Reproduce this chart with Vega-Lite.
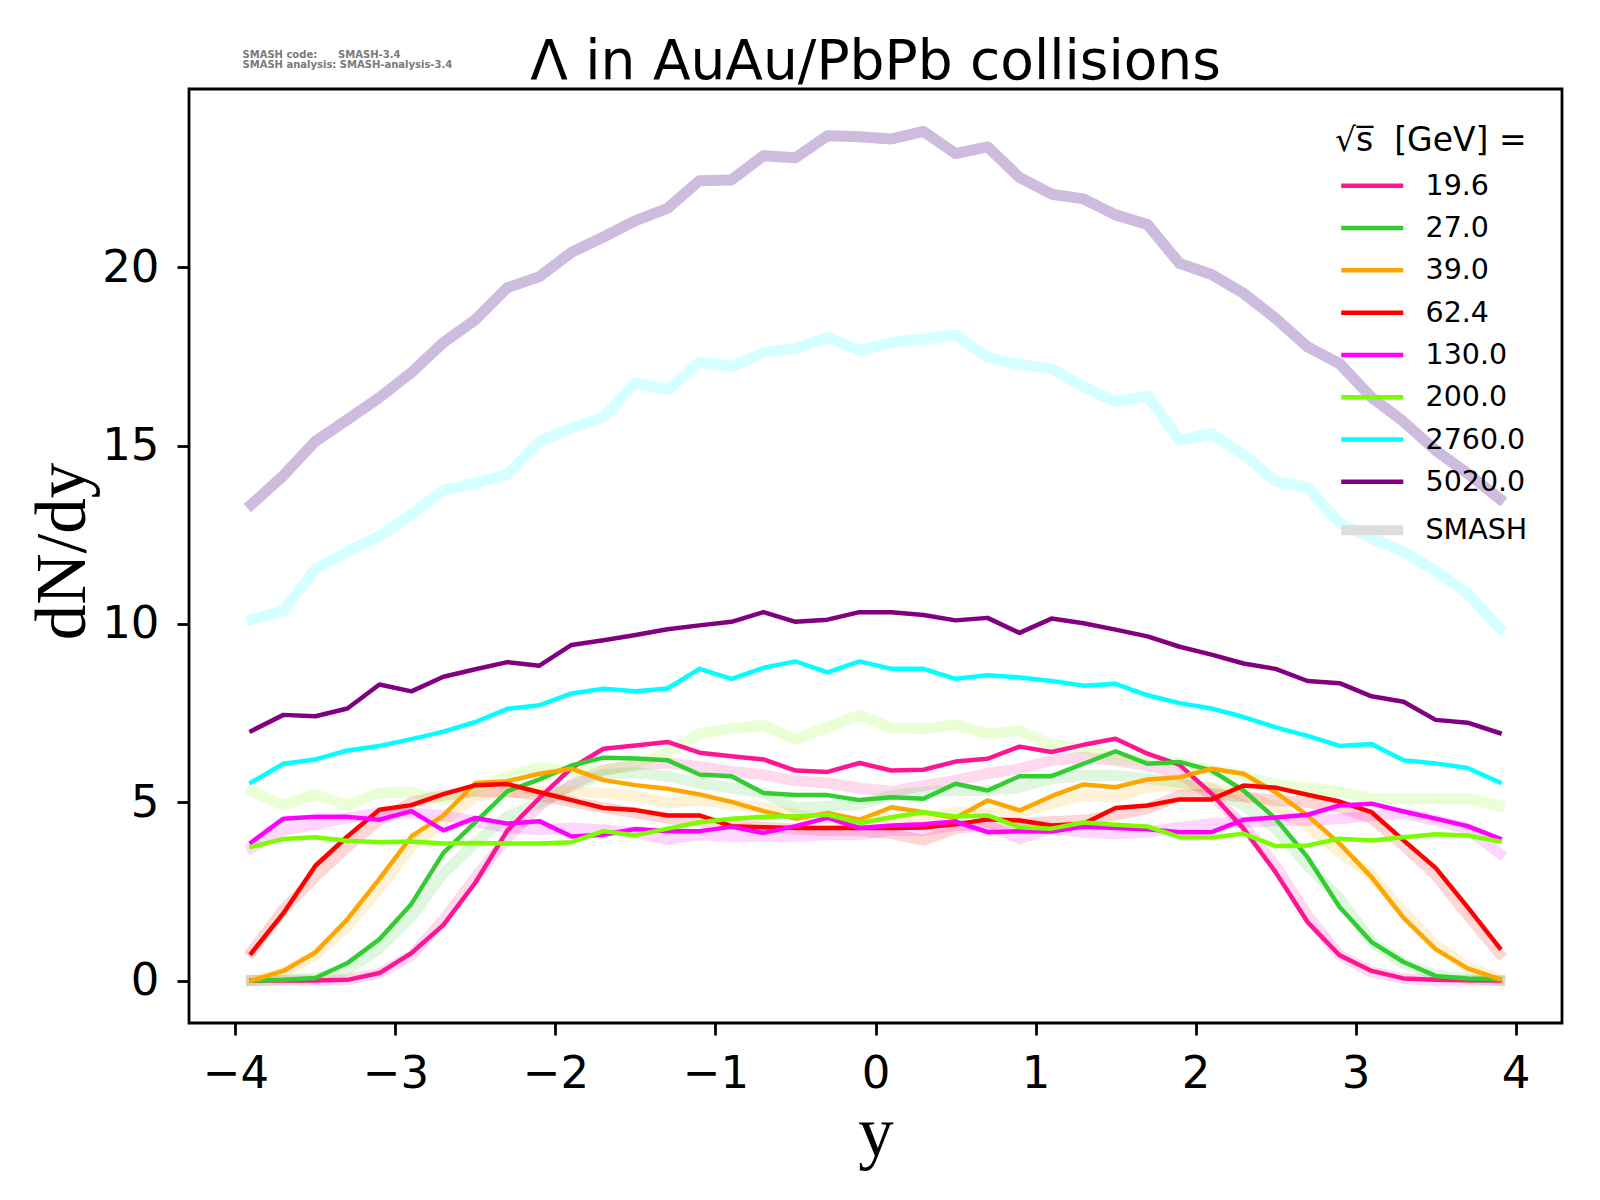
{
  "$schema": "https://vega.github.io/schema/vega-lite/v6.json",
  "width": 1373,
  "height": 934,
  "autosize": {"type": "none"},
  "padding": {"left": 189, "top": 89, "right": 38, "bottom": 177},
  "background": "white",
  "config": {
    "font": "DejaVu Sans",
    "view": {"stroke": "black", "strokeWidth": 2.8},
    "axis": {
      "grid": false,
      "domain": false,
      "tickColor": "black",
      "tickWidth": 2.8,
      "tickSize": 12,
      "labelFont": "DejaVu Sans",
      "labelFontSize": 45,
      "labelColor": "black",
      "titleFont": "Liberation Serif",
      "titleFontSize": 71,
      "titleFontWeight": "normal",
      "titleColor": "black"
    }
  },
  "title": {
    "text": "Λ in AuAu/PbPb collisions",
    "font": "DejaVu Sans",
    "fontSize": 55,
    "fontWeight": "normal",
    "color": "black",
    "anchor": "middle",
    "baseline": "alphabetic",
    "offset": -85
  },
  "datasets": {
    "measured": [
      {"rapidity":-3.9,"energy":"19.6","dNdy":0},{"rapidity":-3.7,"energy":"19.6","dNdy":0},{"rapidity":-3.5,"energy":"19.6","dNdy":0},{"rapidity":-3.3,"energy":"19.6","dNdy":0.02},{"rapidity":-3.1,"energy":"19.6","dNdy":0.21},
      {"rapidity":-2.9,"energy":"19.6","dNdy":0.77},{"rapidity":-2.7,"energy":"19.6","dNdy":1.56},{"rapidity":-2.5,"energy":"19.6","dNdy":2.75},{"rapidity":-2.3,"energy":"19.6","dNdy":4.21},{"rapidity":-2.1,"energy":"19.6","dNdy":5.12},
      {"rapidity":-1.9,"energy":"19.6","dNdy":5.96},{"rapidity":-1.7,"energy":"19.6","dNdy":6.5},{"rapidity":-1.5,"energy":"19.6","dNdy":6.59},{"rapidity":-1.3,"energy":"19.6","dNdy":6.69},{"rapidity":-1.1,"energy":"19.6","dNdy":6.39},
      {"rapidity":-0.9,"energy":"19.6","dNdy":6.29},{"rapidity":-0.7,"energy":"19.6","dNdy":6.2},{"rapidity":-0.5,"energy":"19.6","dNdy":5.89},{"rapidity":-0.3,"energy":"19.6","dNdy":5.85},{"rapidity":-0.1,"energy":"19.6","dNdy":6.1},
      {"rapidity":0.1,"energy":"19.6","dNdy":5.89},{"rapidity":0.3,"energy":"19.6","dNdy":5.91},{"rapidity":0.5,"energy":"19.6","dNdy":6.14},{"rapidity":0.7,"energy":"19.6","dNdy":6.22},{"rapidity":0.9,"energy":"19.6","dNdy":6.56},
      {"rapidity":1.1,"energy":"19.6","dNdy":6.41},{"rapidity":1.3,"energy":"19.6","dNdy":6.61},{"rapidity":1.5,"energy":"19.6","dNdy":6.78},{"rapidity":1.7,"energy":"19.6","dNdy":6.36},{"rapidity":1.9,"energy":"19.6","dNdy":6.05},
      {"rapidity":2.1,"energy":"19.6","dNdy":5.24},{"rapidity":2.3,"energy":"19.6","dNdy":4.26},{"rapidity":2.5,"energy":"19.6","dNdy":3.04},{"rapidity":2.7,"energy":"19.6","dNdy":1.64},{"rapidity":2.9,"energy":"19.6","dNdy":0.71},
      {"rapidity":3.1,"energy":"19.6","dNdy":0.27},{"rapidity":3.3,"energy":"19.6","dNdy":0.06},{"rapidity":3.5,"energy":"19.6","dNdy":0.02},{"rapidity":3.7,"energy":"19.6","dNdy":0.01},{"rapidity":3.9,"energy":"19.6","dNdy":0},

      {"rapidity":-3.9,"energy":"27.0","dNdy":0},{"rapidity":-3.7,"energy":"27.0","dNdy":0.02},{"rapidity":-3.5,"energy":"27.0","dNdy":0.07},{"rapidity":-3.3,"energy":"27.0","dNdy":0.49},{"rapidity":-3.1,"energy":"27.0","dNdy":1.16},
      {"rapidity":-2.9,"energy":"27.0","dNdy":2.15},{"rapidity":-2.7,"energy":"27.0","dNdy":3.58},{"rapidity":-2.5,"energy":"27.0","dNdy":4.44},{"rapidity":-2.3,"energy":"27.0","dNdy":5.31},{"rapidity":-2.1,"energy":"27.0","dNdy":5.64},
      {"rapidity":-1.9,"energy":"27.0","dNdy":6.03},{"rapidity":-1.7,"energy":"27.0","dNdy":6.25},{"rapidity":-1.5,"energy":"27.0","dNdy":6.23},{"rapidity":-1.3,"energy":"27.0","dNdy":6.18},{"rapidity":-1.1,"energy":"27.0","dNdy":5.78},
      {"rapidity":-0.9,"energy":"27.0","dNdy":5.73},{"rapidity":-0.7,"energy":"27.0","dNdy":5.26},{"rapidity":-0.5,"energy":"27.0","dNdy":5.2},{"rapidity":-0.3,"energy":"27.0","dNdy":5.2},{"rapidity":-0.1,"energy":"27.0","dNdy":5.06},
      {"rapidity":0.1,"energy":"27.0","dNdy":5.14},{"rapidity":0.3,"energy":"27.0","dNdy":5.1},{"rapidity":0.5,"energy":"27.0","dNdy":5.52},{"rapidity":0.7,"energy":"27.0","dNdy":5.33},{"rapidity":0.9,"energy":"27.0","dNdy":5.73},
      {"rapidity":1.1,"energy":"27.0","dNdy":5.73},{"rapidity":1.3,"energy":"27.0","dNdy":6.08},{"rapidity":1.5,"energy":"27.0","dNdy":6.43},{"rapidity":1.7,"energy":"27.0","dNdy":6.08},{"rapidity":1.9,"energy":"27.0","dNdy":6.13},
      {"rapidity":2.1,"energy":"27.0","dNdy":5.89},{"rapidity":2.3,"energy":"27.0","dNdy":5.33},{"rapidity":2.5,"energy":"27.0","dNdy":4.54},{"rapidity":2.7,"energy":"27.0","dNdy":3.46},{"rapidity":2.9,"energy":"27.0","dNdy":2.06},
      {"rapidity":3.1,"energy":"27.0","dNdy":1.08},{"rapidity":3.3,"energy":"27.0","dNdy":0.52},{"rapidity":3.5,"energy":"27.0","dNdy":0.13},{"rapidity":3.7,"energy":"27.0","dNdy":0.06},{"rapidity":3.9,"energy":"27.0","dNdy":0.04},

      {"rapidity":-3.9,"energy":"39.0","dNdy":0},{"rapidity":-3.7,"energy":"39.0","dNdy":0.27},{"rapidity":-3.5,"energy":"39.0","dNdy":0.79},{"rapidity":-3.3,"energy":"39.0","dNdy":1.72},{"rapidity":-3.1,"energy":"39.0","dNdy":2.85},
      {"rapidity":-2.9,"energy":"39.0","dNdy":4.04},{"rapidity":-2.7,"energy":"39.0","dNdy":4.63},{"rapidity":-2.5,"energy":"39.0","dNdy":5.54},{"rapidity":-2.3,"energy":"39.0","dNdy":5.59},{"rapidity":-2.1,"energy":"39.0","dNdy":5.8},
      {"rapidity":-1.9,"energy":"39.0","dNdy":5.94},{"rapidity":-1.7,"energy":"39.0","dNdy":5.62},{"rapidity":-1.5,"energy":"39.0","dNdy":5.48},{"rapidity":-1.3,"energy":"39.0","dNdy":5.38},{"rapidity":-1.1,"energy":"39.0","dNdy":5.22},
      {"rapidity":-0.9,"energy":"39.0","dNdy":5.01},{"rapidity":-0.7,"energy":"39.0","dNdy":4.75},{"rapidity":-0.5,"energy":"39.0","dNdy":4.54},{"rapidity":-0.3,"energy":"39.0","dNdy":4.7},{"rapidity":-0.1,"energy":"39.0","dNdy":4.51},
      {"rapidity":0.1,"energy":"39.0","dNdy":4.86},{"rapidity":0.3,"energy":"39.0","dNdy":4.72},{"rapidity":0.5,"energy":"39.0","dNdy":4.56},{"rapidity":0.7,"energy":"39.0","dNdy":5.05},{"rapidity":0.9,"energy":"39.0","dNdy":4.77},
      {"rapidity":1.1,"energy":"39.0","dNdy":5.17},{"rapidity":1.3,"energy":"39.0","dNdy":5.5},{"rapidity":1.5,"energy":"39.0","dNdy":5.42},{"rapidity":1.7,"energy":"39.0","dNdy":5.64},{"rapidity":1.9,"energy":"39.0","dNdy":5.7},
      {"rapidity":2.1,"energy":"39.0","dNdy":5.94},{"rapidity":2.3,"energy":"39.0","dNdy":5.8},{"rapidity":2.5,"energy":"39.0","dNdy":5.28},{"rapidity":2.7,"energy":"39.0","dNdy":4.63},{"rapidity":2.9,"energy":"39.0","dNdy":3.84},
      {"rapidity":3.1,"energy":"39.0","dNdy":2.9},{"rapidity":3.3,"energy":"39.0","dNdy":1.76},{"rapidity":3.5,"energy":"39.0","dNdy":0.88},{"rapidity":3.7,"energy":"39.0","dNdy":0.34},{"rapidity":3.9,"energy":"39.0","dNdy":0.04},

      {"rapidity":-3.9,"energy":"62.4","dNdy":0.77},{"rapidity":-3.7,"energy":"62.4","dNdy":1.89},{"rapidity":-3.5,"energy":"62.4","dNdy":3.22},{"rapidity":-3.3,"energy":"62.4","dNdy":4.04},{"rapidity":-3.1,"energy":"62.4","dNdy":4.79},
      {"rapidity":-2.9,"energy":"62.4","dNdy":4.92},{"rapidity":-2.7,"energy":"62.4","dNdy":5.23},{"rapidity":-2.5,"energy":"62.4","dNdy":5.48},{"rapidity":-2.3,"energy":"62.4","dNdy":5.51},{"rapidity":-2.1,"energy":"62.4","dNdy":5.28},
      {"rapidity":-1.9,"energy":"62.4","dNdy":5.06},{"rapidity":-1.7,"energy":"62.4","dNdy":4.84},{"rapidity":-1.5,"energy":"62.4","dNdy":4.78},{"rapidity":-1.3,"energy":"62.4","dNdy":4.63},{"rapidity":-1.1,"energy":"62.4","dNdy":4.63},
      {"rapidity":-0.9,"energy":"62.4","dNdy":4.33},{"rapidity":-0.7,"energy":"62.4","dNdy":4.3},{"rapidity":-0.5,"energy":"62.4","dNdy":4.28},{"rapidity":-0.3,"energy":"62.4","dNdy":4.28},{"rapidity":-0.1,"energy":"62.4","dNdy":4.28},
      {"rapidity":0.1,"energy":"62.4","dNdy":4.28},{"rapidity":0.3,"energy":"62.4","dNdy":4.29},{"rapidity":0.5,"energy":"62.4","dNdy":4.38},{"rapidity":0.7,"energy":"62.4","dNdy":4.52},{"rapidity":0.9,"energy":"62.4","dNdy":4.49},
      {"rapidity":1.1,"energy":"62.4","dNdy":4.35},{"rapidity":1.3,"energy":"62.4","dNdy":4.4},{"rapidity":1.5,"energy":"62.4","dNdy":4.84},{"rapidity":1.7,"energy":"62.4","dNdy":4.91},{"rapidity":1.9,"energy":"62.4","dNdy":5.08},
      {"rapidity":2.1,"energy":"62.4","dNdy":5.08},{"rapidity":2.3,"energy":"62.4","dNdy":5.47},{"rapidity":2.5,"energy":"62.4","dNdy":5.41},{"rapidity":2.7,"energy":"62.4","dNdy":5.21},{"rapidity":2.9,"energy":"62.4","dNdy":5.02},
      {"rapidity":3.1,"energy":"62.4","dNdy":4.72},{"rapidity":3.3,"energy":"62.4","dNdy":3.93},{"rapidity":3.5,"energy":"62.4","dNdy":3.16},{"rapidity":3.7,"energy":"62.4","dNdy":2.06},{"rapidity":3.9,"energy":"62.4","dNdy":0.92},

      {"rapidity":-3.9,"energy":"130.0","dNdy":3.88},{"rapidity":-3.7,"energy":"130.0","dNdy":4.54},{"rapidity":-3.5,"energy":"130.0","dNdy":4.59},{"rapidity":-3.3,"energy":"130.0","dNdy":4.59},{"rapidity":-3.1,"energy":"130.0","dNdy":4.51},
      {"rapidity":-2.9,"energy":"130.0","dNdy":4.75},{"rapidity":-2.7,"energy":"130.0","dNdy":4.21},{"rapidity":-2.5,"energy":"130.0","dNdy":4.56},{"rapidity":-2.3,"energy":"130.0","dNdy":4.4},{"rapidity":-2.1,"energy":"130.0","dNdy":4.47},
      {"rapidity":-1.9,"energy":"130.0","dNdy":4.04},{"rapidity":-1.7,"energy":"130.0","dNdy":4.09},{"rapidity":-1.5,"energy":"130.0","dNdy":4.25},{"rapidity":-1.3,"energy":"130.0","dNdy":4.19},{"rapidity":-1.1,"energy":"130.0","dNdy":4.19},
      {"rapidity":-0.9,"energy":"130.0","dNdy":4.31},{"rapidity":-0.7,"energy":"130.0","dNdy":4.14},{"rapidity":-0.5,"energy":"130.0","dNdy":4.33},{"rapidity":-0.3,"energy":"130.0","dNdy":4.56},{"rapidity":-0.1,"energy":"130.0","dNdy":4.28},
      {"rapidity":0.1,"energy":"130.0","dNdy":4.35},{"rapidity":0.3,"energy":"130.0","dNdy":4.38},{"rapidity":0.5,"energy":"130.0","dNdy":4.46},{"rapidity":0.7,"energy":"130.0","dNdy":4.16},{"rapidity":0.9,"energy":"130.0","dNdy":4.19},
      {"rapidity":1.1,"energy":"130.0","dNdy":4.18},{"rapidity":1.3,"energy":"130.0","dNdy":4.32},{"rapidity":1.5,"energy":"130.0","dNdy":4.28},{"rapidity":1.7,"energy":"130.0","dNdy":4.24},{"rapidity":1.9,"energy":"130.0","dNdy":4.16},
      {"rapidity":2.1,"energy":"130.0","dNdy":4.16},{"rapidity":2.3,"energy":"130.0","dNdy":4.51},{"rapidity":2.5,"energy":"130.0","dNdy":4.57},{"rapidity":2.7,"energy":"130.0","dNdy":4.65},{"rapidity":2.9,"energy":"130.0","dNdy":4.91},
      {"rapidity":3.1,"energy":"130.0","dNdy":4.96},{"rapidity":3.3,"energy":"130.0","dNdy":4.74},{"rapidity":3.5,"energy":"130.0","dNdy":4.54},{"rapidity":3.7,"energy":"130.0","dNdy":4.33},{"rapidity":3.9,"energy":"130.0","dNdy":3.98},

      {"rapidity":-3.9,"energy":"200.0","dNdy":3.75},{"rapidity":-3.7,"energy":"200.0","dNdy":3.97},{"rapidity":-3.5,"energy":"200.0","dNdy":4.02},{"rapidity":-3.3,"energy":"200.0","dNdy":3.92},{"rapidity":-3.1,"energy":"200.0","dNdy":3.88},
      {"rapidity":-2.9,"energy":"200.0","dNdy":3.9},{"rapidity":-2.7,"energy":"200.0","dNdy":3.84},{"rapidity":-2.5,"energy":"200.0","dNdy":3.86},{"rapidity":-2.3,"energy":"200.0","dNdy":3.84},{"rapidity":-2.1,"energy":"200.0","dNdy":3.84},
      {"rapidity":-1.9,"energy":"200.0","dNdy":3.88},{"rapidity":-1.7,"energy":"200.0","dNdy":4.19},{"rapidity":-1.5,"energy":"200.0","dNdy":4.07},{"rapidity":-1.3,"energy":"200.0","dNdy":4.26},{"rapidity":-1.1,"energy":"200.0","dNdy":4.44},
      {"rapidity":-0.9,"energy":"200.0","dNdy":4.54},{"rapidity":-0.7,"energy":"200.0","dNdy":4.59},{"rapidity":-0.5,"energy":"200.0","dNdy":4.61},{"rapidity":-0.3,"energy":"200.0","dNdy":4.65},{"rapidity":-0.1,"energy":"200.0","dNdy":4.42},
      {"rapidity":0.1,"energy":"200.0","dNdy":4.58},{"rapidity":0.3,"energy":"200.0","dNdy":4.72},{"rapidity":0.5,"energy":"200.0","dNdy":4.6},{"rapidity":0.7,"energy":"200.0","dNdy":4.63},{"rapidity":0.9,"energy":"200.0","dNdy":4.3},
      {"rapidity":1.1,"energy":"200.0","dNdy":4.26},{"rapidity":1.3,"energy":"200.0","dNdy":4.43},{"rapidity":1.5,"energy":"200.0","dNdy":4.37},{"rapidity":1.7,"energy":"200.0","dNdy":4.32},{"rapidity":1.9,"energy":"200.0","dNdy":4.02},
      {"rapidity":2.1,"energy":"200.0","dNdy":4.01},{"rapidity":2.3,"energy":"200.0","dNdy":4.12},{"rapidity":2.5,"energy":"200.0","dNdy":3.77},{"rapidity":2.7,"energy":"200.0","dNdy":3.79},{"rapidity":2.9,"energy":"200.0","dNdy":3.98},
      {"rapidity":3.1,"energy":"200.0","dNdy":3.93},{"rapidity":3.3,"energy":"200.0","dNdy":4.02},{"rapidity":3.5,"energy":"200.0","dNdy":4.1},{"rapidity":3.7,"energy":"200.0","dNdy":4.07},{"rapidity":3.9,"energy":"200.0","dNdy":3.9},

      {"rapidity":-3.9,"energy":"2760.0","dNdy":5.56},{"rapidity":-3.7,"energy":"2760.0","dNdy":6.08},{"rapidity":-3.5,"energy":"2760.0","dNdy":6.2},{"rapidity":-3.3,"energy":"2760.0","dNdy":6.45},{"rapidity":-3.1,"energy":"2760.0","dNdy":6.58},
      {"rapidity":-2.9,"energy":"2760.0","dNdy":6.77},{"rapidity":-2.7,"energy":"2760.0","dNdy":6.98},{"rapidity":-2.5,"energy":"2760.0","dNdy":7.25},{"rapidity":-2.3,"energy":"2760.0","dNdy":7.62},{"rapidity":-2.1,"energy":"2760.0","dNdy":7.72},
      {"rapidity":-1.9,"energy":"2760.0","dNdy":8.05},{"rapidity":-1.7,"energy":"2760.0","dNdy":8.18},{"rapidity":-1.5,"energy":"2760.0","dNdy":8.11},{"rapidity":-1.3,"energy":"2760.0","dNdy":8.19},{"rapidity":-1.1,"energy":"2760.0","dNdy":8.74},
      {"rapidity":-0.9,"energy":"2760.0","dNdy":8.46},{"rapidity":-0.7,"energy":"2760.0","dNdy":8.77},{"rapidity":-0.5,"energy":"2760.0","dNdy":8.95},{"rapidity":-0.3,"energy":"2760.0","dNdy":8.64},{"rapidity":-0.1,"energy":"2760.0","dNdy":8.95},
      {"rapidity":0.1,"energy":"2760.0","dNdy":8.74},{"rapidity":0.3,"energy":"2760.0","dNdy":8.74},{"rapidity":0.5,"energy":"2760.0","dNdy":8.46},{"rapidity":0.7,"energy":"2760.0","dNdy":8.56},{"rapidity":0.9,"energy":"2760.0","dNdy":8.5},
      {"rapidity":1.1,"energy":"2760.0","dNdy":8.4},{"rapidity":1.3,"energy":"2760.0","dNdy":8.27},{"rapidity":1.5,"energy":"2760.0","dNdy":8.32},{"rapidity":1.7,"energy":"2760.0","dNdy":8.0},{"rapidity":1.9,"energy":"2760.0","dNdy":7.78},
      {"rapidity":2.1,"energy":"2760.0","dNdy":7.63},{"rapidity":2.3,"energy":"2760.0","dNdy":7.39},{"rapidity":2.5,"energy":"2760.0","dNdy":7.1},{"rapidity":2.7,"energy":"2760.0","dNdy":6.86},{"rapidity":2.9,"energy":"2760.0","dNdy":6.58},
      {"rapidity":3.1,"energy":"2760.0","dNdy":6.63},{"rapidity":3.3,"energy":"2760.0","dNdy":6.18},{"rapidity":3.5,"energy":"2760.0","dNdy":6.09},{"rapidity":3.7,"energy":"2760.0","dNdy":5.96},{"rapidity":3.9,"energy":"2760.0","dNdy":5.56},

      {"rapidity":-3.9,"energy":"5020.0","dNdy":7.0},{"rapidity":-3.7,"energy":"5020.0","dNdy":7.45},{"rapidity":-3.5,"energy":"5020.0","dNdy":7.41},{"rapidity":-3.3,"energy":"5020.0","dNdy":7.63},{"rapidity":-3.1,"energy":"5020.0","dNdy":8.3},
      {"rapidity":-2.9,"energy":"5020.0","dNdy":8.11},{"rapidity":-2.7,"energy":"5020.0","dNdy":8.52},{"rapidity":-2.5,"energy":"5020.0","dNdy":8.73},{"rapidity":-2.3,"energy":"5020.0","dNdy":8.93},{"rapidity":-2.1,"energy":"5020.0","dNdy":8.83},
      {"rapidity":-1.9,"energy":"5020.0","dNdy":9.41},{"rapidity":-1.7,"energy":"5020.0","dNdy":9.54},{"rapidity":-1.5,"energy":"5020.0","dNdy":9.69},{"rapidity":-1.3,"energy":"5020.0","dNdy":9.85},{"rapidity":-1.1,"energy":"5020.0","dNdy":9.96},
      {"rapidity":-0.9,"energy":"5020.0","dNdy":10.06},{"rapidity":-0.7,"energy":"5020.0","dNdy":10.33},{"rapidity":-0.5,"energy":"5020.0","dNdy":10.06},{"rapidity":-0.3,"energy":"5020.0","dNdy":10.12},{"rapidity":-0.1,"energy":"5020.0","dNdy":10.33},
      {"rapidity":0.1,"energy":"5020.0","dNdy":10.33},{"rapidity":0.3,"energy":"5020.0","dNdy":10.25},{"rapidity":0.5,"energy":"5020.0","dNdy":10.1},{"rapidity":0.7,"energy":"5020.0","dNdy":10.17},{"rapidity":0.9,"energy":"5020.0","dNdy":9.75},
      {"rapidity":1.1,"energy":"5020.0","dNdy":10.15},{"rapidity":1.3,"energy":"5020.0","dNdy":10.02},{"rapidity":1.5,"energy":"5020.0","dNdy":9.84},{"rapidity":1.7,"energy":"5020.0","dNdy":9.65},{"rapidity":1.9,"energy":"5020.0","dNdy":9.36},
      {"rapidity":2.1,"energy":"5020.0","dNdy":9.14},{"rapidity":2.3,"energy":"5020.0","dNdy":8.89},{"rapidity":2.5,"energy":"5020.0","dNdy":8.74},{"rapidity":2.7,"energy":"5020.0","dNdy":8.4},{"rapidity":2.9,"energy":"5020.0","dNdy":8.34},
      {"rapidity":3.1,"energy":"5020.0","dNdy":7.97},{"rapidity":3.3,"energy":"5020.0","dNdy":7.82},{"rapidity":3.5,"energy":"5020.0","dNdy":7.31},{"rapidity":3.7,"energy":"5020.0","dNdy":7.23},{"rapidity":3.9,"energy":"5020.0","dNdy":6.94}
    ],
    "smash": [
      {"rapidity":-3.9,"energy":"19.6","dNdy":0},{"rapidity":-3.7,"energy":"19.6","dNdy":0},{"rapidity":-3.5,"energy":"19.6","dNdy":0},{"rapidity":-3.3,"energy":"19.6","dNdy":0.03},{"rapidity":-3.1,"energy":"19.6","dNdy":0.2},
      {"rapidity":-2.9,"energy":"19.6","dNdy":0.7},{"rapidity":-2.7,"energy":"19.6","dNdy":1.7},{"rapidity":-2.5,"energy":"19.6","dNdy":2.9},{"rapidity":-2.3,"energy":"19.6","dNdy":4.0},{"rapidity":-2.1,"energy":"19.6","dNdy":4.9},
      {"rapidity":-1.9,"energy":"19.6","dNdy":5.5},{"rapidity":-1.7,"energy":"19.6","dNdy":5.9},{"rapidity":-1.5,"energy":"19.6","dNdy":6.05},{"rapidity":-1.3,"energy":"19.6","dNdy":6.1},{"rapidity":-1.1,"energy":"19.6","dNdy":6.0},
      {"rapidity":-0.9,"energy":"19.6","dNdy":5.87},{"rapidity":-0.7,"energy":"19.6","dNdy":5.77},{"rapidity":-0.5,"energy":"19.6","dNdy":5.6},{"rapidity":-0.3,"energy":"19.6","dNdy":5.54},{"rapidity":-0.1,"energy":"19.6","dNdy":5.4},
      {"rapidity":0.1,"energy":"19.6","dNdy":5.3},{"rapidity":0.3,"energy":"19.6","dNdy":5.47},{"rapidity":0.5,"energy":"19.6","dNdy":5.61},{"rapidity":0.7,"energy":"19.6","dNdy":5.8},{"rapidity":0.9,"energy":"19.6","dNdy":5.94},
      {"rapidity":1.1,"energy":"19.6","dNdy":6.17},{"rapidity":1.3,"energy":"19.6","dNdy":6.26},{"rapidity":1.5,"energy":"19.6","dNdy":6.17},{"rapidity":1.7,"energy":"19.6","dNdy":6.03},{"rapidity":1.9,"energy":"19.6","dNdy":5.8},
      {"rapidity":2.1,"energy":"19.6","dNdy":5.19},{"rapidity":2.3,"energy":"19.6","dNdy":4.35},{"rapidity":2.5,"energy":"19.6","dNdy":3.22},{"rapidity":2.7,"energy":"19.6","dNdy":1.83},{"rapidity":2.9,"energy":"19.6","dNdy":0.71},
      {"rapidity":3.1,"energy":"19.6","dNdy":0.24},{"rapidity":3.3,"energy":"19.6","dNdy":0.06},{"rapidity":3.5,"energy":"19.6","dNdy":0},{"rapidity":3.7,"energy":"19.6","dNdy":0},{"rapidity":3.9,"energy":"19.6","dNdy":0},

      {"rapidity":-3.9,"energy":"27.0","dNdy":0},{"rapidity":-3.7,"energy":"27.0","dNdy":0.02},{"rapidity":-3.5,"energy":"27.0","dNdy":0.07},{"rapidity":-3.3,"energy":"27.0","dNdy":0.3},{"rapidity":-3.1,"energy":"27.0","dNdy":0.9},
      {"rapidity":-2.9,"energy":"27.0","dNdy":1.8},{"rapidity":-2.7,"energy":"27.0","dNdy":3.0},{"rapidity":-2.5,"energy":"27.0","dNdy":3.86},{"rapidity":-2.3,"energy":"27.0","dNdy":4.61},{"rapidity":-2.1,"energy":"27.0","dNdy":4.98},
      {"rapidity":-1.9,"energy":"27.0","dNdy":5.45},{"rapidity":-1.7,"energy":"27.0","dNdy":5.78},{"rapidity":-1.5,"energy":"27.0","dNdy":5.83},{"rapidity":-1.3,"energy":"27.0","dNdy":5.73},{"rapidity":-1.1,"energy":"27.0","dNdy":5.54},
      {"rapidity":-0.9,"energy":"27.0","dNdy":5.4},{"rapidity":-0.7,"energy":"27.0","dNdy":5.26},{"rapidity":-0.5,"energy":"27.0","dNdy":4.84},{"rapidity":-0.3,"energy":"27.0","dNdy":4.89},{"rapidity":-0.1,"energy":"27.0","dNdy":4.94},
      {"rapidity":0.1,"energy":"27.0","dNdy":5.19},{"rapidity":0.3,"energy":"27.0","dNdy":5.28},{"rapidity":0.5,"energy":"27.0","dNdy":5.33},{"rapidity":0.7,"energy":"27.0","dNdy":5.33},{"rapidity":0.9,"energy":"27.0","dNdy":5.42},
      {"rapidity":1.1,"energy":"27.0","dNdy":5.66},{"rapidity":1.3,"energy":"27.0","dNdy":5.75},{"rapidity":1.5,"energy":"27.0","dNdy":5.75},{"rapidity":1.7,"energy":"27.0","dNdy":5.66},{"rapidity":1.9,"energy":"27.0","dNdy":5.56},
      {"rapidity":2.1,"energy":"27.0","dNdy":5.38},{"rapidity":2.3,"energy":"27.0","dNdy":4.91},{"rapidity":2.5,"energy":"27.0","dNdy":4.26},{"rapidity":2.7,"energy":"27.0","dNdy":3.23},{"rapidity":2.9,"energy":"27.0","dNdy":2.3},
      {"rapidity":3.1,"energy":"27.0","dNdy":1.08},{"rapidity":3.3,"energy":"27.0","dNdy":0.48},{"rapidity":3.5,"energy":"27.0","dNdy":0.15},{"rapidity":3.7,"energy":"27.0","dNdy":0.06},{"rapidity":3.9,"energy":"27.0","dNdy":0},

      {"rapidity":-3.9,"energy":"39.0","dNdy":0},{"rapidity":-3.7,"energy":"39.0","dNdy":0.21},{"rapidity":-3.5,"energy":"39.0","dNdy":0.72},{"rapidity":-3.3,"energy":"39.0","dNdy":1.52},{"rapidity":-3.1,"energy":"39.0","dNdy":2.59},
      {"rapidity":-2.9,"energy":"39.0","dNdy":3.76},{"rapidity":-2.7,"energy":"39.0","dNdy":4.47},{"rapidity":-2.5,"energy":"39.0","dNdy":5.17},{"rapidity":-2.3,"energy":"39.0","dNdy":5.28},{"rapidity":-2.1,"energy":"39.0","dNdy":5.3},
      {"rapidity":-1.9,"energy":"39.0","dNdy":5.3},{"rapidity":-1.7,"energy":"39.0","dNdy":5.26},{"rapidity":-1.5,"energy":"39.0","dNdy":5.17},{"rapidity":-1.3,"energy":"39.0","dNdy":4.98},{"rapidity":-1.1,"energy":"39.0","dNdy":5.07},
      {"rapidity":-0.9,"energy":"39.0","dNdy":4.93},{"rapidity":-0.7,"energy":"39.0","dNdy":4.84},{"rapidity":-0.5,"energy":"39.0","dNdy":4.65},{"rapidity":-0.3,"energy":"39.0","dNdy":4.51},{"rapidity":-0.1,"energy":"39.0","dNdy":4.47},
      {"rapidity":0.1,"energy":"39.0","dNdy":4.54},{"rapidity":0.3,"energy":"39.0","dNdy":4.54},{"rapidity":0.5,"energy":"39.0","dNdy":4.72},{"rapidity":0.7,"energy":"39.0","dNdy":4.68},{"rapidity":0.9,"energy":"39.0","dNdy":4.72},
      {"rapidity":1.1,"energy":"39.0","dNdy":4.96},{"rapidity":1.3,"energy":"39.0","dNdy":5.19},{"rapidity":1.5,"energy":"39.0","dNdy":5.15},{"rapidity":1.7,"energy":"39.0","dNdy":5.42},{"rapidity":1.9,"energy":"39.0","dNdy":5.47},
      {"rapidity":2.1,"energy":"39.0","dNdy":5.42},{"rapidity":2.3,"energy":"39.0","dNdy":5.19},{"rapidity":2.5,"energy":"39.0","dNdy":4.86},{"rapidity":2.7,"energy":"39.0","dNdy":4.35},{"rapidity":2.9,"energy":"39.0","dNdy":3.6},
      {"rapidity":3.1,"energy":"39.0","dNdy":2.95},{"rapidity":3.3,"energy":"39.0","dNdy":1.92},{"rapidity":3.5,"energy":"39.0","dNdy":0.99},{"rapidity":3.7,"energy":"39.0","dNdy":0.38},{"rapidity":3.9,"energy":"39.0","dNdy":0.04},

      {"rapidity":-3.9,"energy":"62.4","dNdy":0.81},{"rapidity":-3.7,"energy":"62.4","dNdy":1.99},{"rapidity":-3.5,"energy":"62.4","dNdy":2.92},{"rapidity":-3.3,"energy":"62.4","dNdy":3.76},{"rapidity":-3.1,"energy":"62.4","dNdy":4.5},
      {"rapidity":-2.9,"energy":"62.4","dNdy":5.0},{"rapidity":-2.7,"energy":"62.4","dNdy":5.2},{"rapidity":-2.5,"energy":"62.4","dNdy":5.3},{"rapidity":-2.3,"energy":"62.4","dNdy":5.3},{"rapidity":-2.1,"energy":"62.4","dNdy":5.2},
      {"rapidity":-1.9,"energy":"62.4","dNdy":5.0},{"rapidity":-1.7,"energy":"62.4","dNdy":4.85},{"rapidity":-1.5,"energy":"62.4","dNdy":4.7},{"rapidity":-1.3,"energy":"62.4","dNdy":4.55},{"rapidity":-1.1,"energy":"62.4","dNdy":4.45},
      {"rapidity":-0.9,"energy":"62.4","dNdy":4.4},{"rapidity":-0.7,"energy":"62.4","dNdy":4.3},{"rapidity":-0.5,"energy":"62.4","dNdy":4.25},{"rapidity":-0.3,"energy":"62.4","dNdy":4.2},{"rapidity":-0.1,"energy":"62.4","dNdy":4.2},
      {"rapidity":0.1,"energy":"62.4","dNdy":4.12},{"rapidity":0.3,"energy":"62.4","dNdy":3.93},{"rapidity":0.5,"energy":"62.4","dNdy":4.26},{"rapidity":0.7,"energy":"62.4","dNdy":4.36},{"rapidity":0.9,"energy":"62.4","dNdy":4.41},
      {"rapidity":1.1,"energy":"62.4","dNdy":4.45},{"rapidity":1.3,"energy":"62.4","dNdy":4.5},{"rapidity":1.5,"energy":"62.4","dNdy":4.64},{"rapidity":1.7,"energy":"62.4","dNdy":4.82},{"rapidity":1.9,"energy":"62.4","dNdy":5.19},
      {"rapidity":2.1,"energy":"62.4","dNdy":5.24},{"rapidity":2.3,"energy":"62.4","dNdy":5.15},{"rapidity":2.5,"energy":"62.4","dNdy":5.05},{"rapidity":2.7,"energy":"62.4","dNdy":5.0},{"rapidity":2.9,"energy":"62.4","dNdy":4.86},
      {"rapidity":3.1,"energy":"62.4","dNdy":4.54},{"rapidity":3.3,"energy":"62.4","dNdy":3.79},{"rapidity":3.5,"energy":"62.4","dNdy":2.96},{"rapidity":3.7,"energy":"62.4","dNdy":1.83},{"rapidity":3.9,"energy":"62.4","dNdy":0.76},

      {"rapidity":-3.9,"energy":"130.0","dNdy":3.72},{"rapidity":-3.7,"energy":"130.0","dNdy":4.23},{"rapidity":-3.5,"energy":"130.0","dNdy":4.37},{"rapidity":-3.3,"energy":"130.0","dNdy":4.56},{"rapidity":-3.1,"energy":"130.0","dNdy":4.7},
      {"rapidity":-2.9,"energy":"130.0","dNdy":4.7},{"rapidity":-2.7,"energy":"130.0","dNdy":4.63},{"rapidity":-2.5,"energy":"130.0","dNdy":4.47},{"rapidity":-2.3,"energy":"130.0","dNdy":4.28},{"rapidity":-2.1,"energy":"130.0","dNdy":4.23},
      {"rapidity":-1.9,"energy":"130.0","dNdy":4.28},{"rapidity":-1.7,"energy":"130.0","dNdy":4.23},{"rapidity":-1.5,"energy":"130.0","dNdy":4.14},{"rapidity":-1.3,"energy":"130.0","dNdy":3.95},{"rapidity":-1.1,"energy":"130.0","dNdy":4.09},
      {"rapidity":-0.9,"energy":"130.0","dNdy":4.04},{"rapidity":-0.7,"energy":"130.0","dNdy":4.04},{"rapidity":-0.5,"energy":"130.0","dNdy":4.04},{"rapidity":-0.3,"energy":"130.0","dNdy":4.09},{"rapidity":-0.1,"energy":"130.0","dNdy":4.09},
      {"rapidity":0.1,"energy":"130.0","dNdy":4.21},{"rapidity":0.3,"energy":"130.0","dNdy":4.21},{"rapidity":0.5,"energy":"130.0","dNdy":4.35},{"rapidity":0.7,"energy":"130.0","dNdy":4.35},{"rapidity":0.9,"energy":"130.0","dNdy":3.98},
      {"rapidity":1.1,"energy":"130.0","dNdy":4.26},{"rapidity":1.3,"energy":"130.0","dNdy":4.16},{"rapidity":1.5,"energy":"130.0","dNdy":4.12},{"rapidity":1.7,"energy":"130.0","dNdy":4.16},{"rapidity":1.9,"energy":"130.0","dNdy":4.3},
      {"rapidity":2.1,"energy":"130.0","dNdy":4.4},{"rapidity":2.3,"energy":"130.0","dNdy":4.44},{"rapidity":2.5,"energy":"130.0","dNdy":4.49},{"rapidity":2.7,"energy":"130.0","dNdy":4.49},{"rapidity":2.9,"energy":"130.0","dNdy":4.54},
      {"rapidity":3.1,"energy":"130.0","dNdy":4.63},{"rapidity":3.3,"energy":"130.0","dNdy":4.68},{"rapidity":3.5,"energy":"130.0","dNdy":4.49},{"rapidity":3.7,"energy":"130.0","dNdy":4.26},{"rapidity":3.9,"energy":"130.0","dNdy":3.56},

      {"rapidity":-3.9,"energy":"200.0","dNdy":5.31},{"rapidity":-3.7,"energy":"200.0","dNdy":4.92},{"rapidity":-3.5,"energy":"200.0","dNdy":5.22},{"rapidity":-3.3,"energy":"200.0","dNdy":4.92},{"rapidity":-3.1,"energy":"200.0","dNdy":5.26},
      {"rapidity":-2.9,"energy":"200.0","dNdy":5.28},{"rapidity":-2.7,"energy":"200.0","dNdy":5.07},{"rapidity":-2.5,"energy":"200.0","dNdy":5.34},{"rapidity":-2.3,"energy":"200.0","dNdy":5.73},{"rapidity":-2.1,"energy":"200.0","dNdy":5.98},
      {"rapidity":-1.9,"energy":"200.0","dNdy":5.84},{"rapidity":-1.7,"energy":"200.0","dNdy":5.9},{"rapidity":-1.5,"energy":"200.0","dNdy":6.05},{"rapidity":-1.3,"energy":"200.0","dNdy":6.4},{"rapidity":-1.1,"energy":"200.0","dNdy":6.92},
      {"rapidity":-0.9,"energy":"200.0","dNdy":7.07},{"rapidity":-0.7,"energy":"200.0","dNdy":7.16},{"rapidity":-0.5,"energy":"200.0","dNdy":6.76},{"rapidity":-0.3,"energy":"200.0","dNdy":7.1},{"rapidity":-0.1,"energy":"200.0","dNdy":7.45},
      {"rapidity":0.1,"energy":"200.0","dNdy":7.08},{"rapidity":0.3,"energy":"200.0","dNdy":7.06},{"rapidity":0.5,"energy":"200.0","dNdy":7.17},{"rapidity":0.7,"energy":"200.0","dNdy":6.92},{"rapidity":0.9,"energy":"200.0","dNdy":7.01},
      {"rapidity":1.1,"energy":"200.0","dNdy":6.61},{"rapidity":1.3,"energy":"200.0","dNdy":6.5},{"rapidity":1.5,"energy":"200.0","dNdy":6.2},{"rapidity":1.7,"energy":"200.0","dNdy":6.2},{"rapidity":1.9,"energy":"200.0","dNdy":6.1},
      {"rapidity":2.1,"energy":"200.0","dNdy":5.9},{"rapidity":2.3,"energy":"200.0","dNdy":5.75},{"rapidity":2.5,"energy":"200.0","dNdy":5.5},{"rapidity":2.7,"energy":"200.0","dNdy":5.4},{"rapidity":2.9,"energy":"200.0","dNdy":5.3},
      {"rapidity":3.1,"energy":"200.0","dNdy":5.1},{"rapidity":3.3,"energy":"200.0","dNdy":5.1},{"rapidity":3.5,"energy":"200.0","dNdy":5.1},{"rapidity":3.7,"energy":"200.0","dNdy":5.1},{"rapidity":3.9,"energy":"200.0","dNdy":4.9},

      {"rapidity":-3.9,"energy":"2760.0","dNdy":10.12},{"rapidity":-3.7,"energy":"2760.0","dNdy":10.37},{"rapidity":-3.5,"energy":"2760.0","dNdy":11.54},{"rapidity":-3.3,"energy":"2760.0","dNdy":12.03},{"rapidity":-3.1,"energy":"2760.0","dNdy":12.47},
      {"rapidity":-2.9,"energy":"2760.0","dNdy":13.08},{"rapidity":-2.7,"energy":"2760.0","dNdy":13.76},{"rapidity":-2.5,"energy":"2760.0","dNdy":13.95},{"rapidity":-2.3,"energy":"2760.0","dNdy":14.19},{"rapidity":-2.1,"energy":"2760.0","dNdy":15.12},
      {"rapidity":-1.9,"energy":"2760.0","dNdy":15.49},{"rapidity":-1.7,"energy":"2760.0","dNdy":15.8},{"rapidity":-1.5,"energy":"2760.0","dNdy":16.76},{"rapidity":-1.3,"energy":"2760.0","dNdy":16.56},{"rapidity":-1.1,"energy":"2760.0","dNdy":17.34},
      {"rapidity":-0.9,"energy":"2760.0","dNdy":17.21},{"rapidity":-0.7,"energy":"2760.0","dNdy":17.61},{"rapidity":-0.5,"energy":"2760.0","dNdy":17.73},{"rapidity":-0.3,"energy":"2760.0","dNdy":18.04},{"rapidity":-0.1,"energy":"2760.0","dNdy":17.67},
      {"rapidity":0.1,"energy":"2760.0","dNdy":17.89},{"rapidity":0.3,"energy":"2760.0","dNdy":17.99},{"rapidity":0.5,"energy":"2760.0","dNdy":18.11},{"rapidity":0.7,"energy":"2760.0","dNdy":17.48},{"rapidity":0.9,"energy":"2760.0","dNdy":17.27},
      {"rapidity":1.1,"energy":"2760.0","dNdy":17.15},{"rapidity":1.3,"energy":"2760.0","dNdy":16.66},{"rapidity":1.5,"energy":"2760.0","dNdy":16.23},{"rapidity":1.7,"energy":"2760.0","dNdy":16.39},{"rapidity":1.9,"energy":"2760.0","dNdy":15.15},
      {"rapidity":2.1,"energy":"2760.0","dNdy":15.34},{"rapidity":2.3,"energy":"2760.0","dNdy":14.75},{"rapidity":2.5,"energy":"2760.0","dNdy":14.0},{"rapidity":2.7,"energy":"2760.0","dNdy":13.82},{"rapidity":2.9,"energy":"2760.0","dNdy":12.84},
      {"rapidity":3.1,"energy":"2760.0","dNdy":12.4},{"rapidity":3.3,"energy":"2760.0","dNdy":12.03},{"rapidity":3.5,"energy":"2760.0","dNdy":11.48},{"rapidity":3.7,"energy":"2760.0","dNdy":10.86},{"rapidity":3.9,"energy":"2760.0","dNdy":9.88},

      {"rapidity":-3.9,"energy":"5020.0","dNdy":13.35},{"rapidity":-3.7,"energy":"5020.0","dNdy":14.16},{"rapidity":-3.5,"energy":"5020.0","dNdy":15.12},{"rapidity":-3.3,"energy":"5020.0","dNdy":15.73},{"rapidity":-3.1,"energy":"5020.0","dNdy":16.35},
      {"rapidity":-2.9,"energy":"5020.0","dNdy":17.05},{"rapidity":-2.7,"energy":"5020.0","dNdy":17.89},{"rapidity":-2.5,"energy":"5020.0","dNdy":18.53},{"rapidity":-2.3,"energy":"5020.0","dNdy":19.43},{"rapidity":-2.1,"energy":"5020.0","dNdy":19.74},
      {"rapidity":-1.9,"energy":"5020.0","dNdy":20.42},{"rapidity":-1.7,"energy":"5020.0","dNdy":20.85},{"rapidity":-1.5,"energy":"5020.0","dNdy":21.31},{"rapidity":-1.3,"energy":"5020.0","dNdy":21.65},{"rapidity":-1.1,"energy":"5020.0","dNdy":22.43},
      {"rapidity":-0.9,"energy":"5020.0","dNdy":22.45},{"rapidity":-0.7,"energy":"5020.0","dNdy":23.13},{"rapidity":-0.5,"energy":"5020.0","dNdy":23.07},{"rapidity":-0.3,"energy":"5020.0","dNdy":23.69},{"rapidity":-0.1,"energy":"5020.0","dNdy":23.66},
      {"rapidity":0.1,"energy":"5020.0","dNdy":23.6},{"rapidity":0.3,"energy":"5020.0","dNdy":23.81},{"rapidity":0.5,"energy":"5020.0","dNdy":23.19},{"rapidity":0.7,"energy":"5020.0","dNdy":23.38},{"rapidity":0.9,"energy":"5020.0","dNdy":22.52},
      {"rapidity":1.1,"energy":"5020.0","dNdy":22.05},{"rapidity":1.3,"energy":"5020.0","dNdy":21.92},{"rapidity":1.5,"energy":"5020.0","dNdy":21.47},{"rapidity":1.7,"energy":"5020.0","dNdy":21.2},{"rapidity":1.9,"energy":"5020.0","dNdy":20.11},
      {"rapidity":2.1,"energy":"5020.0","dNdy":19.8},{"rapidity":2.3,"energy":"5020.0","dNdy":19.27},{"rapidity":2.5,"energy":"5020.0","dNdy":18.57},{"rapidity":2.7,"energy":"5020.0","dNdy":17.77},{"rapidity":2.9,"energy":"5020.0","dNdy":17.3},
      {"rapidity":3.1,"energy":"5020.0","dNdy":16.35},{"rapidity":3.3,"energy":"5020.0","dNdy":15.67},{"rapidity":3.5,"energy":"5020.0","dNdy":14.87},{"rapidity":3.7,"energy":"5020.0","dNdy":14.22},{"rapidity":3.9,"energy":"5020.0","dNdy":13.51}
    ]
  },
  "encoding": {
    "y": {
      "field": "dNdy",
      "type": "quantitative",
      "scale": {"domain": [-1.19, 25.0], "nice": false, "zero": false},
      "axis": {"values": [0, 5, 10, 15, 20], "title": "dN/dy", "labelPadding": 18, "titlePadding": 2, "titleY": 462}
    }
  },
  "layer": [
    {
      "data": {"name": "smash"},
      "mark": {"type": "line", "strokeWidth": 11, "strokeJoin": "round", "strokeCap": "square"},
      "encoding": {
        "x": {
          "field": "rapidity",
          "type": "quantitative",
          "scale": {"domain": [-4.29, 4.29], "nice": false, "zero": false},
          "axis": {
            "orient": "top",
            "labels": false,
            "ticks": false,
            "domain": false,
            "title": ["SMASH code:\u00a0\u00a0\u00a0\u00a0\u00a0\u00a0SMASH-3.4", "SMASH analysis:\u00a0SMASH-analysis-3.4"],
            "titleFont": "DejaVu Sans",
            "titleFontSize": 10,
            "titleFontWeight": "bold",
            "titleColor": "#7a7a7a",
            "titleAnchor": "start",
            "titleAlign": "left",
            "titleBaseline": "top",
            "titleAngle": 0,
            "titleLineHeight": 10.5,
            "titleX": 53,
            "titleY": -40,
            "titleLimit": 600
          }
        },
        "color": {
          "field": "energy",
          "type": "nominal",
          "scale": {
            "domain": ["19.6", "27.0", "39.0", "62.4", "130.0", "200.0", "2760.0", "5020.0"],
            "range": ["#ff1493", "#32cd32", "#ffa500", "#ff0000", "#ff00ff", "#7cfc00", "#00ffff", "#663399"]
          },
          "legend": null
        },
        "opacity": {"condition": {"test": "datum.energy === '5020.0'", "value": 0.33}, "value": 0.16}
      }
    },
    {
      "data": {"name": "measured"},
      "mark": {"type": "line", "strokeWidth": 4.5, "strokeJoin": "round", "strokeCap": "square"},
      "encoding": {
        "x": {
          "field": "rapidity",
          "type": "quantitative",
          "scale": {"domain": [-4.29, 4.29], "nice": false, "zero": false},
          "axis": {"orient": "bottom", "values": [-4, -3, -2, -1, 0, 1, 2, 3, 4], "title": "y", "labelPadding": 16, "titlePadding": 3}
        },
        "color": {
          "field": "energy",
          "type": "nominal",
          "scale": {
            "domain": ["19.6", "27.0", "39.0", "62.4", "130.0", "200.0", "2760.0", "5020.0", "SMASH"],
            "range": ["#ff1493", "#32cd32", "#ffa500", "#ff0000", "#ff00ff", "#7cfc00", "#00ffff", "#800080", "#dddddd"]
          },
          "legend": {
            "title": "√s̅\u00a0\u00a0[GeV] =",
            "orient": "none",
            "legendX": 1146,
            "legendY": 36,
            "padding": 0,
            "titleFont": "DejaVu Sans",
            "titleFontSize": 33,
            "titleFontWeight": "normal",
            "titleColor": "black",
            "titleLimit": 600,
            "titlePadding": 13.5,
            "labelFont": "DejaVu Sans",
            "labelFontSize": 28.5,
            "labelColor": "black",
            "labelLimit": 400,
            "symbolType": "M-2.2,0H2.2",
            "symbolSize": 795,
            "symbolStrokeWidth": 4.5,
            "symbolOffset": 23,
            "labelOffset": 39,
            "rowPadding": 13.3,
            "encode": {
              "symbols": {
                "update": {
                  "strokeWidth": {"signal": "datum.value === 'SMASH' ? 10 : 4.5"}
                }
              }
            }
          }
        }
      }
    }
  ],
  "resolve": {"scale": {"color": "independent"}, "axis": {"x": "independent"}}
}
